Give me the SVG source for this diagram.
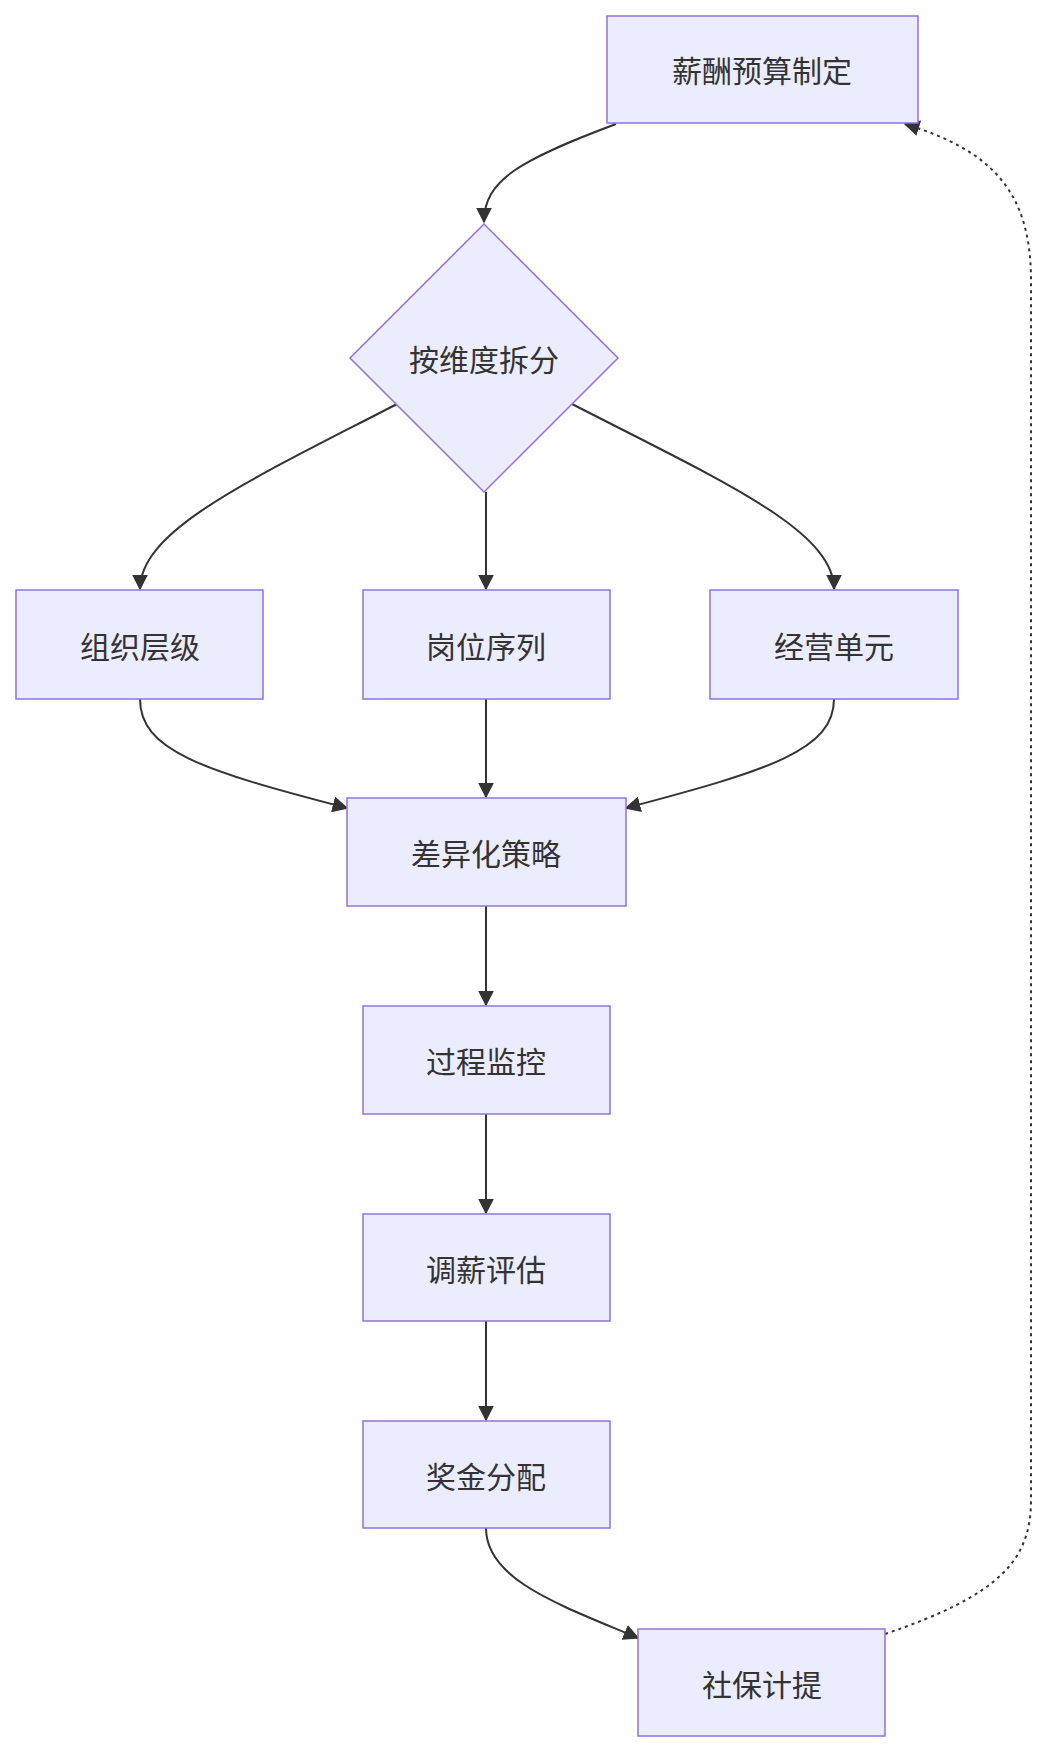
<svg xmlns="http://www.w3.org/2000/svg" width="1051" height="1756" viewBox="0 0 1051 1756">
<style>
.n{fill:#ECECFF;stroke:#9370DB;stroke-width:1.5}
.t{font-family:"Noto Sans CJK SC","Liberation Sans",sans-serif;font-size:30px;fill:#333;text-anchor:middle;dominant-baseline:central}
.e{fill:none;stroke:#333;stroke-width:2}
.d{stroke-dasharray:3 4}
</style>
<defs><marker id="a" viewBox="0 0 10 10" refX="9" refY="5" markerWidth="8" markerHeight="8" orient="auto-start-reverse" markerUnits="userSpaceOnUse" ><path d="M0,0L10,5L0,10z" fill="#333"/></marker>
<marker id="b" viewBox="0 0 10 10" refX="9" refY="5" markerWidth="16" markerHeight="16" orient="auto" markerUnits="userSpaceOnUse"><path d="M0,0L10,5L0,10z" fill="#333"/></marker></defs>
<rect width="1051" height="1756" fill="#fff"/>
<g id="edges">
<path class="e" d="M616,124 C520,160 484,180 484,222" marker-end="url(#b)"/>
<path class="e" d="M397,404 C250,480 140,530 140,589" marker-end="url(#b)"/>
<path class="e" d="M486,492 L486,589" marker-end="url(#b)"/>
<path class="e" d="M572,404 C720,480 834,530 834,589" marker-end="url(#b)"/>
<path class="e" d="M140,699 C140,750 200,770 347,808" marker-end="url(#b)"/>
<path class="e" d="M486,699 L486,797" marker-end="url(#b)"/>
<path class="e" d="M834,699 C834,750 770,770 626,808" marker-end="url(#b)"/>
<path class="e" d="M486,906 L486,1005" marker-end="url(#b)"/>
<path class="e" d="M486,1114 L486,1213" marker-end="url(#b)"/>
<path class="e" d="M486,1321 L486,1420" marker-end="url(#b)"/>
<path class="e" d="M486,1528 C486,1580 560,1605 638,1638" marker-end="url(#b)"/>
<path class="e d" d="M885,1634 C1000,1595 1031,1560 1031,1500 L1031,280 C1031,190 990,150 905,124" marker-end="url(#b)"/>
</g>
<g id="n1"><rect class="n" x="607" y="16" width="311" height="107"/><text class="t" x="762" y="69">薪酬预算制定</text></g>
<g id="n2"><polygon class="n" points="484,224 618,358 484,492 350,358"/><text class="t" x="484" y="358">按维度拆分</text></g>
<g id="n3"><rect class="n" x="16" y="590" width="247" height="109"/><text class="t" x="140" y="645">组织层级</text></g>
<g id="n4"><rect class="n" x="363" y="590" width="247" height="109"/><text class="t" x="486" y="645">岗位序列</text></g>
<g id="n5"><rect class="n" x="710" y="590" width="248" height="109"/><text class="t" x="834" y="645">经营单元</text></g>
<g id="n6"><rect class="n" x="347" y="798" width="279" height="108"/><text class="t" x="486" y="852">差异化策略</text></g>
<g id="n7"><rect class="n" x="363" y="1006" width="247" height="108"/><text class="t" x="486" y="1060">过程监控</text></g>
<g id="n8"><rect class="n" x="363" y="1214" width="247" height="107"/><text class="t" x="486" y="1268">调薪评估</text></g>
<g id="n9"><rect class="n" x="363" y="1421" width="247" height="107"/><text class="t" x="486" y="1475">奖金分配</text></g>
<g id="n10"><rect class="n" x="638" y="1629" width="247" height="107"/><text class="t" x="762" y="1683">社保计提</text></g>
</svg>
